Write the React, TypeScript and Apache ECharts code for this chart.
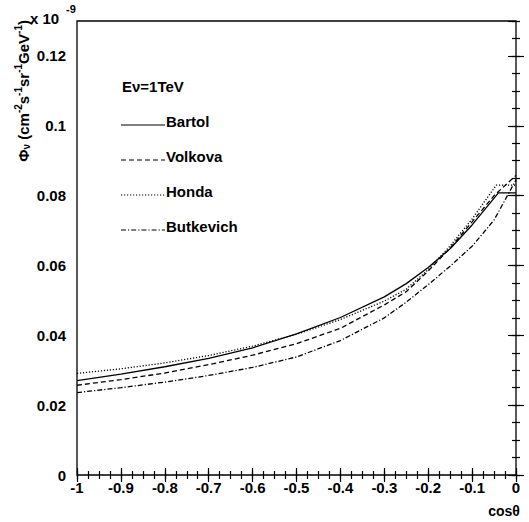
import React, { useEffect, useRef } from "react";
import * as echarts from "echarts";

// ---- data ----
const bartolX = [-1, -0.9, -0.8, -0.7, -0.6, -0.5, -0.4, -0.3, -0.25, -0.2, -0.15, -0.1, -0.04, 0];
const bartolY = [0.027, 0.0289, 0.031, 0.0334, 0.0364, 0.0404, 0.0451, 0.051, 0.0548, 0.0594, 0.0648, 0.0716, 0.0808, 0.0808];

const volkovaX = [-1, -0.9, -0.8, -0.7, -0.6, -0.5, -0.4, -0.3, -0.25, -0.2, -0.15, -0.1, -0.05, 0];
const volkovaY = [0.0257, 0.0273, 0.0292, 0.0316, 0.0343, 0.0376, 0.042, 0.0487, 0.0525, 0.0584, 0.065, 0.0725, 0.08, 0.0858];

const hondaX = [-1, -0.9, -0.8, -0.7, -0.6, -0.5, -0.4, -0.3, -0.25, -0.2, -0.15, -0.1, -0.045, 0];
const hondaY = [0.0291, 0.0304, 0.0321, 0.0342, 0.0369, 0.0403, 0.0445, 0.0498, 0.0532, 0.0588, 0.0656, 0.0733, 0.083, 0.083];

const butkevichX = [-1, -0.9, -0.8, -0.7, -0.6, -0.5, -0.4, -0.3, -0.25, -0.2, -0.15, -0.1, -0.05, 0];
const butkevichY = [0.0236, 0.025, 0.0266, 0.0285, 0.0308, 0.0338, 0.0385, 0.045, 0.0495, 0.0545, 0.0598, 0.0655, 0.073, 0.0845];

const seriesNames = ["Bartol", "Volkova", "Honda", "Butkevich"];
const seriesDash: (number[] | null)[] = [null, [5, 3], [1.2, 1.8], [5, 2, 1.2, 2]];

const xMin = -1;
const xMax = 0;
const xMajor = 0.1;
const xMinor = 0.025;
const yMin = 0;
const yMax = 0.13;
const yMajor = 0.02;
const yMinor = 0.005;

const FONT = "Liberation Sans";

function pairs(xs: number[], ys: number[]) {
  return xs.map((x, i) => [x, ys[i]]);
}

export default function App() {
  const ref = useRef<HTMLDivElement>(null);
  useEffect(() => {
    if (!ref.current) return;
    const chart = echarts.init(ref.current, null, { renderer: "svg" });

    const tickStyle = { color: "#000", width: 1.2 };
    const labelStyle = {
      color: "#000",
      fontFamily: FONT,
      fontWeight: "bold" as const,
      fontSize: 15,
    };
    const mkX = (position: string, interval: number, len: number, label: boolean) => ({
      type: "value",
      position,
      min: xMin,
      max: xMax,
      interval,
      axisLine: { show: false },
      splitLine: { show: false },
      axisTick: { show: true, inside: true, length: len, lineStyle: tickStyle },
      axisLabel: label
        ? { show: true, margin: 5, ...labelStyle, formatter: (v: number) => String(+v.toFixed(2)) }
        : { show: false },
    });
    const mkY = (position: string, interval: number, len: number, label: boolean) => ({
      type: "value",
      position,
      min: yMin,
      max: yMax,
      interval,
      axisLine: { show: false },
      splitLine: { show: false },
      axisTick: { show: true, inside: true, length: len, lineStyle: tickStyle },
      axisLabel: label
        ? {
            show: true,
            margin: 11,
            showMaxLabel: false,
            ...labelStyle,
            formatter: (v: number) => String(+v.toFixed(3)),
          }
        : { show: false },
    });

    const allX = [bartolX, volkovaX, hondaX, butkevichX];
    const allY = [bartolY, volkovaY, hondaY, butkevichY];

    const legendTop = 125;
    const legendStep = 35;

    const graphics: any[] = [
      {
        type: "text",
        x: 122,
        y: 86,
        style: {
          text: "Eν=1TeV",
          fill: "#000",
          font: `bold 15px "${FONT}"`,
          textVerticalAlign: "middle",
        },
      },
      {
        type: "text",
        x: 30,
        y: 18,
        style: { text: "x 10", fill: "#000", font: `bold 15px "${FONT}"`, textVerticalAlign: "middle" },
      },
      {
        type: "text",
        x: 66,
        y: 9,
        style: { text: "-9", fill: "#000", font: `bold 11px "${FONT}"`, textVerticalAlign: "middle" },
      },
      {
        type: "text",
        x: 504,
        y: 511,
        style: { text: "cosθ", fill: "#000", font: `bold 14px "${FONT}"`, textAlign: "center", textVerticalAlign: "middle" },
      },
      {
        type: "text",
        x: 22,
        y: 20,
        rotation: Math.PI / 2,
        style: {
          text: "{n|Φ}{sub|ν}{n| (cm}{sup|-2}{n|s}{sup|-1}{n|sr}{sup|-1}{n|GeV}{sup|-1}{n|)}",
          textAlign: "right",
          textVerticalAlign: "middle",
          fill: "#000",
          rich: {
            n: { fontFamily: FONT, fontWeight: "bold", fontSize: 15, lineHeight: 18, verticalAlign: "bottom", fill: "#000" },
            sup: { fontFamily: FONT, fontWeight: "bold", fontSize: 10, lineHeight: 10, verticalAlign: "top", fill: "#000" },
            sub: { fontFamily: FONT, fontWeight: "bold", fontSize: 10, lineHeight: 10, verticalAlign: "bottom", fill: "#000" },
          },
        },
      },
    ];
    seriesNames.forEach((name, i) => {
      const ly = legendTop + i * legendStep;
      graphics.push({
        type: "line",
        shape: { x1: 121, y1: ly, x2: 165, y2: ly },
        style: { stroke: "#000", lineWidth: 1.2, lineDash: seriesDash[i] || undefined },
      });
      graphics.push({
        type: "text",
        x: 166,
        y: ly - 4,
        style: { text: name, fill: "#000", font: `bold 15px "${FONT}"`, textVerticalAlign: "middle" },
      });
    });

    chart.setOption({
      animation: false,
      backgroundColor: "#fff",
      grid: {
        left: 77,
        right: 13,
        top: 21,
        bottom: 47,
        show: true,
        borderColor: "#000",
        borderWidth: 1.3,
        backgroundColor: "transparent",
      },
      xAxis: [
        mkX("bottom", xMajor, 7, true),
        mkX("bottom", xMinor, 4, false),
        mkX("top", xMajor, 7, false),
        mkX("top", xMinor, 4, false),
      ],
      yAxis: [
        mkY("left", yMajor, 8, true),
        mkY("left", yMinor, 4, false),
        mkY("right", yMajor, 8, false),
        mkY("right", yMinor, 4, false),
      ],
      graphic: graphics,
      series: seriesNames.map((name, i) => ({
        name,
        type: "line",
        xAxisIndex: 0,
        yAxisIndex: 0,
        showSymbol: false,
        symbol: "none",
        smooth: false,
        data: pairs(allX[i], allY[i]),
        lineStyle: {
          color: "#000",
          width: 1.3,
          type: seriesDash[i] ? seriesDash[i] : "solid",
        },
      })),
    });
    return () => chart.dispose();
  }, []);
  return <div ref={ref} style={{ width: 529, height: 522, position: "absolute", left: 0, top: 0 }} />;
}
